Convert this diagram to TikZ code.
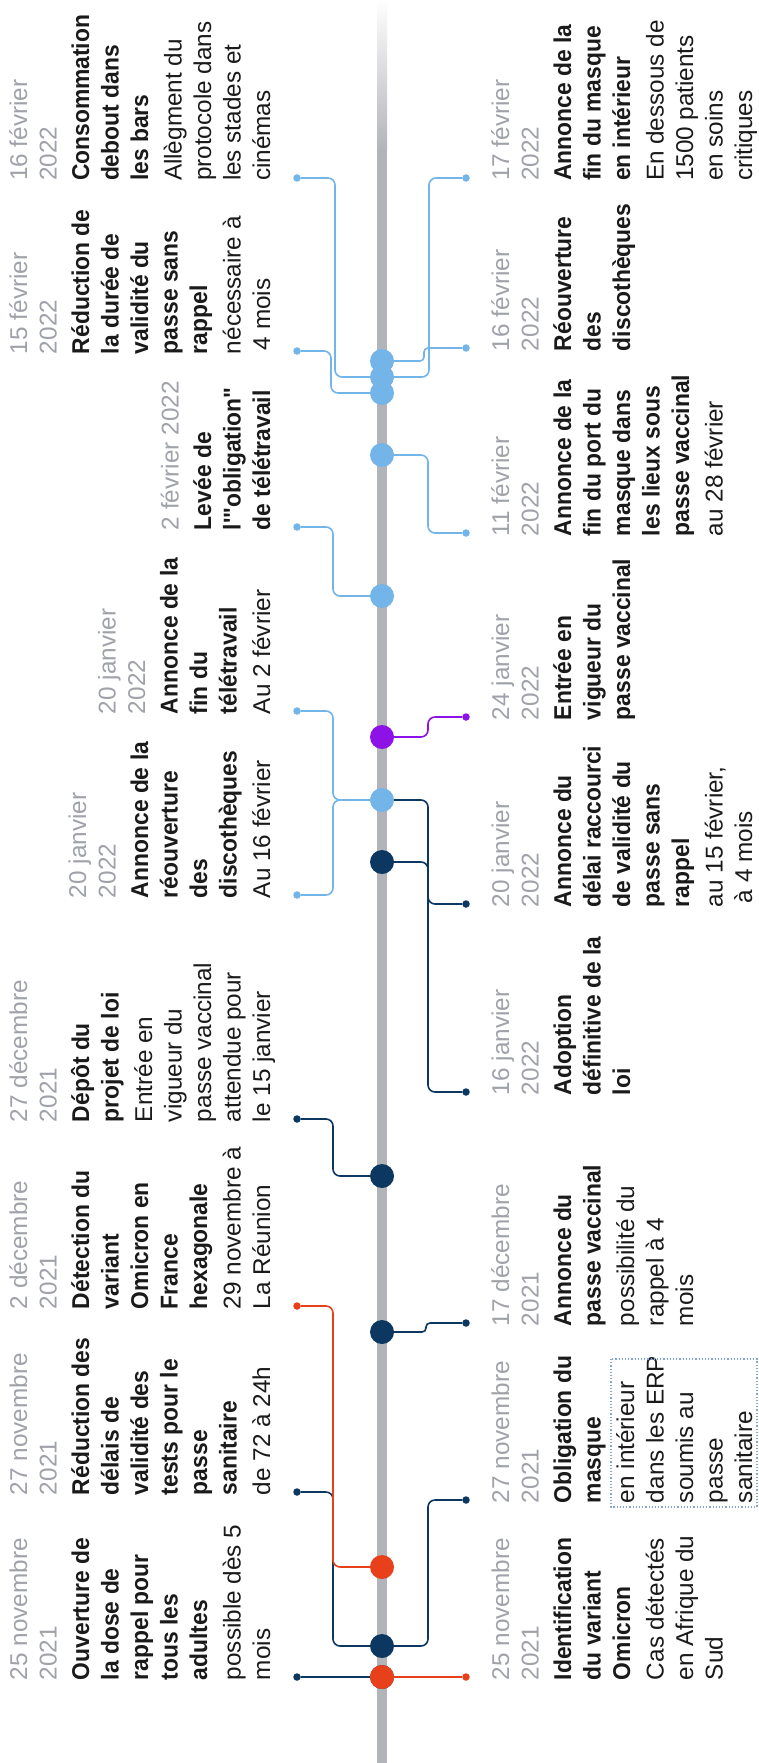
\documentclass[tikz,border=0pt]{standalone}
\usepackage{fontspec}
\newfontfamily\labfont{Liberation Sans}[BoldFeatures={FakeStretch=0.94}]
\definecolor{cNavy}{HTML}{0C3761}
\definecolor{cOr}{HTML}{E8401A}
\definecolor{cLb}{HTML}{74B5E9}
\definecolor{cPu}{HTML}{8C12E8}
\definecolor{cAxis}{HTML}{B3B4B9}
\definecolor{cDate}{HTML}{9FA2A8}
\definecolor{cTxt}{HTML}{1A1A1A}
\definecolor{cBox}{HTML}{7FA6D4}
\newcommand{\evdate}[1]{{\color{cDate}#1}\\[3pt]}
\newcommand{\evtitle}[1]{{\bfseries #1}}
\newcommand{\labL}[1]{\parbox[b]{240pt}{\raggedright\labfont\fontsize{24.3}{29.5}\selectfont\leavevmode\color{cTxt}#1}}
\newcommand{\labR}[1]{\parbox[t]{240pt}{\raggedright\labfont\fontsize{24.3}{29.5}\selectfont\leavevmode\color{cTxt}#1}}
\tikzset{
  lbl/.style={rotate=90, inner sep=0pt, outer sep=0pt, anchor=base west},
  adot/.style={circle, inner sep=0pt, minimum size=24pt},
  edot/.style={circle, inner sep=0pt, minimum size=7.5pt},
  conn/.style={line width=1.6pt, rounded corners=7pt},
  sconn/.style={line width=1.6pt, rounded corners=4pt},
  boxdot/.style={draw=cBox, line width=1.2pt, dotted}
}
\begin{document}
\begin{tikzpicture}[x=1pt, y=1pt]
\useasboundingbox (0,0) rectangle (759,-1763);
\fill[white] (0,0) rectangle (759,-1763);
% axis
\shade[top color=white, bottom color=cAxis] (377,0) rectangle (387,-150);
\fill[cAxis] (377,-150) rectangle (387,-1763);
% axis points
\coordinate (p25) at (382,-1677);
\coordinate (p27) at (382,-1646);
\coordinate (p02d) at (382,-1567);
\coordinate (p17d) at (382,-1332);
\coordinate (p27d) at (382,-1176);
\coordinate (p16j) at (382,-862);
\coordinate (p20j) at (382,-800);
\coordinate (p24j) at (382,-737);
\coordinate (p02f) at (382,-596);
\coordinate (p11f) at (382,-455);
\coordinate (p15f) at (382,-393);
\coordinate (p16f) at (382,-377);
\coordinate (p17f) at (382,-361);
% end dots left
\node[edot, fill=cNavy] (eL1) at (297,-1677) {};
\node[edot, fill=cNavy] (eL2) at (297,-1492) {};
\node[edot, fill=cOr] (eL3) at (297,-1306) {};
\node[edot, fill=cNavy] (eL4) at (297,-1119) {};
\node[edot, fill=cLb] (eL5) at (297,-895) {};
\node[edot, fill=cLb] (eL6) at (297,-711) {};
\node[edot, fill=cLb] (eL7) at (297,-527) {};
\node[edot, fill=cLb] (eL8) at (297,-351) {};
\node[edot, fill=cLb] (eL9) at (297,-178) {};
% end dots right
\node[edot, fill=cOr] (eR1) at (466,-1677) {};
\node[edot, fill=cNavy] (eR2) at (466,-1500) {};
\node[edot, fill=cNavy] (eR3) at (466,-1323) {};
\node[edot, fill=cNavy] (eR4) at (466,-1092) {};
\node[edot, fill=cNavy] (eR5) at (466,-904) {};
\node[edot, fill=cPu] (eR6) at (466,-717) {};
\node[edot, fill=cLb] (eR7) at (466,-533) {};
\node[edot, fill=cLb] (eR8) at (466,-348) {};
\node[edot, fill=cLb] (eR9) at (466,-178) {};
% connectors left
\draw[conn, cNavy] (p25) -- (eL1);
\draw[conn, cNavy] (p27) -- ++(-49,0) |- (eL2);
\draw[conn, cOr] (p02d) -- ++(-49,0) |- (eL3);
\draw[conn, cNavy] (p27d) -- ++(-49,0) |- (eL4);
\draw[conn, cLb] (p20j) -- ++(-49,0) |- (eL5);
\draw[conn, cLb] (p20j) -- ++(-49,0) |- (eL6);
\draw[conn, cLb] (p02f) -- ++(-49,0) |- (eL7);
\draw[conn, cLb] (p15f) -- ++(-51,0) |- (eL8);
\draw[conn, cLb] (p16f) -- ++(-47,0) |- (eL9);
% connectors right
\draw[conn, cNavy] (p27) -- ++(46,0) |- (eR2);
\draw[sconn, cNavy] (p17d) -- ++(44,0) |- (eR3);
\draw[conn, cNavy] (p16j) -- ++(46,0) |- (eR4);
\draw[conn, cNavy] (p20j) -- ++(46,0) |- (eR5);
\draw[conn, cPu] (p24j) -- ++(46,0) |- (eR6);
\draw[conn, cLb] (p11f) -- ++(46,0) |- (eR7);
\draw[conn, cLb] (p16f) -- ++(47,0) |- (eR9);
\draw[sconn, cLb] (p17f) -- ++(42,0) |- (eR8);
\draw[conn, cOr] (p25) -- (eR1);
% axis dots
\node[adot, fill=cNavy] (d25b) at (p25) {};
\node[adot, fill=cOr] (d25) at (p25) {};
\node[adot, fill=cNavy] (d27) at (p27) {};
\node[adot, fill=cOr] (d02d) at (p02d) {};
\node[adot, fill=cNavy] (d17d) at (p17d) {};
\node[adot, fill=cNavy] (d27d) at (p27d) {};
\node[adot, fill=cNavy] (d16j) at (p16j) {};
\node[adot, fill=cLb] (d20j) at (p20j) {};
\node[adot, fill=cPu] (d24j) at (p24j) {};
\node[adot, fill=cLb] (d02f) at (p02f) {};
\node[adot, fill=cLb] (d11f) at (p11f) {};
\node[adot, fill=cLb] (d15f) at (p15f) {};
\node[adot, fill=cLb] (d16f) at (p16f) {};
\node[adot, fill=cLb] (d17f) at (p17f) {};
% left labels
\node[lbl] (tL1) at (270,-1680) {\labL{\evdate{25 novembre\\2021}\evtitle{Ouverture de\\la dose de\\rappel pour\\tous les\\adultes}\\[4pt]possible dès 5\\mois}};
\node[lbl] (tL2) at (270,-1495) {\labL{\evdate{27 novembre\\2021}\evtitle{Réduction des\\délais de\\validité des\\tests pour le\\passe\\sanitaire}\\[4pt]de 72 à 24h}};
\node[lbl] (tL3) at (270,-1309) {\labL{\evdate{2 décembre\\2021}\evtitle{Détection du\\variant\\Omicron en\\France\\hexagonale}\\[4pt]29 novembre à\\La Réunion}};
\node[lbl] (tL4) at (270,-1122) {\labL{\evdate{27 décembre\\2021}\evtitle{Dépôt du\\projet de loi}\\[4pt]Entrée en\\vigueur du\\passe vaccinal\\attendue pour\\le 15 janvier}};
\node[lbl] (tL5) at (270,-898) {\labL{\evdate{20 janvier\\2022}\evtitle{Annonce de la\\réouverture\\des\\discothèques}\\[4pt]Au 16 février}};
\node[lbl] (tL6) at (270,-714) {\labL{\evdate{20 janvier\\2022}\evtitle{Annonce de la\\fin du\\télétravail}\\[4pt]Au 2 février}};
\node[lbl] (tL7) at (270,-530) {\labL{\evdate{2 février 2022}\evtitle{Levée de\\l'"obligation"\\de télétravail}}};
\node[lbl] (tL8) at (270,-354) {\labL{\evdate{15 février\\2022}\evtitle{Réduction de\\la durée de\\validité du\\passe sans\\rappel}\\[4pt]nécessaire à\\\hspace*{4pt}4 mois}};
\node[lbl] (tL9) at (270,-181) {\labL{\evdate{16 février\\2022}\evtitle{Consommation\\debout dans\\les bars}\\[4pt]Allègment du\\protocole dans\\les stades et\\cinémas}};
% right labels
\node[lbl] (tR1) at (509,-1680) {\labR{\evdate{25 novembre\\2021}\evtitle{Identification\\du variant\\Omicron}\\[4pt]Cas détectés\\en Afrique du\\Sud}};
\node[lbl] (tR2) at (509,-1503) {\labR{\evdate{27 novembre\\2021}\evtitle{Obligation du\\masque}\\[4pt]en intérieur\\dans les ERP\\soumis au\\passe\\sanitaire}};
\draw[boxdot] (611,-1359) rectangle (757,-1507);
\node[lbl] (tR3) at (509,-1326) {\labR{\evdate{17 décembre\\2021}\evtitle{Annonce du\\passe vaccinal}\\[4pt]possibilité du\\rappel à 4\\mois}};
\node[lbl] (tR4) at (509,-1095) {\labR{\evdate{16 janvier\\2022}\evtitle{Adoption\\définitive de la\\loi}}};
\node[lbl] (tR5) at (509,-907) {\labR{\evdate{20 janvier\\2022}\evtitle{Annonce du\\délai raccourci\\de validité du\\passe sans\\rappel}\\[4pt]au 15 février,\\\hspace*{4pt}à 4 mois}};
\node[lbl] (tR6) at (509,-720) {\labR{\evdate{24 janvier\\2022}\evtitle{Entrée en\\vigueur du\\passe vaccinal}}};
\node[lbl] (tR7) at (509,-536) {\labR{\evdate{11 février\\2022}\evtitle{Annonce de la\\fin du port du\\masque dans\\les lieux sous\\passe vaccinal}\\[4pt]au 28 février}};
\node[lbl] (tR8) at (509,-351) {\labR{\evdate{16 février\\2022}\evtitle{Réouverture\\des\\discothèques}}};
\node[lbl] (tR9) at (509,-181) {\labR{\evdate{17 février\\2022}\evtitle{Annonce de la\\fin du masque\\en intérieur}\\[4pt]En dessous de\\1500 patients\\en soins\\critiques}};
\end{tikzpicture}
\end{document}
